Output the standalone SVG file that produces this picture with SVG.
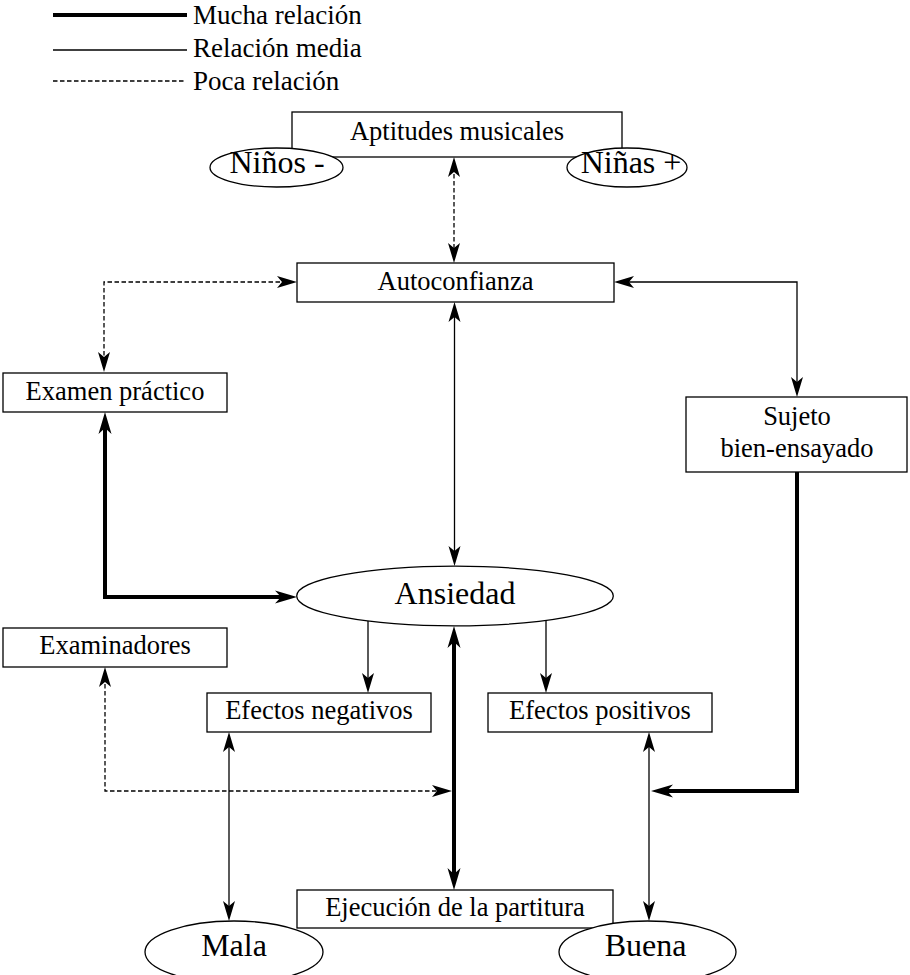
<svg xmlns="http://www.w3.org/2000/svg" width="910" height="975" viewBox="0 0 910 975">
<defs>
<style>
.t{font-family:"Liberation Serif","Times New Roman",serif;fill:#000}
.bt{font-size:26.5px;text-anchor:middle}
.et{font-size:32px;text-anchor:middle}
.lg{font-size:27px}
.box{fill:#fff;stroke:#000;stroke-width:1.3}
.ell{fill:#fff;stroke:#000;stroke-width:1.3}
.m{fill:none;stroke:#000;stroke-width:1.3}
.k{fill:none;stroke:#000;stroke-width:4}
.d{fill:none;stroke:#000;stroke-width:1.3;stroke-dasharray:4.5 2.5}
</style>
<marker id="a" markerUnits="userSpaceOnUse" markerWidth="20" markerHeight="12" refX="10" refY="6" orient="auto-start-reverse" overflow="visible">
<path d="M20,6 L0,0 L5,6 L0,12 Z" fill="#000"/>
</marker>
<marker id="ak" markerUnits="userSpaceOnUse" markerWidth="22" markerHeight="13" refX="11" refY="6.5" orient="auto-start-reverse" overflow="visible">
<path d="M22,6.5 L0,0 L6,6.5 L0,13 Z" fill="#000"/>
</marker>
</defs>
<rect width="910" height="975" fill="#fff"/>

<g id="legend">
<line x1="53" y1="15" x2="187" y2="15" class="k"/>
<line x1="53" y1="50" x2="187" y2="50" class="m"/>
<line x1="53" y1="81" x2="184" y2="81" class="d"/>
<text x="193" y="24" class="t lg">Mucha relación</text>
<text x="193" y="57" class="t lg">Relación media</text>
<text x="193" y="90" class="t lg">Poca relación</text>
</g>

<g id="connectors">
<path d="M454,167 L454,253" class="d" marker-start="url(#a)" marker-end="url(#a)"/>
<path d="M287,282 L104,282 L104,362" class="d" marker-start="url(#a)" marker-end="url(#a)"/>
<path d="M454.5,312 L454.5,556" class="m" marker-start="url(#a)" marker-end="url(#a)"/>
<path d="M624,282 L797,282 L797,387" class="m" marker-start="url(#a)" marker-end="url(#a)"/>
<path d="M105,423 L105,597 L286,597" class="k" marker-start="url(#ak)" marker-end="url(#ak)"/>
<path d="M368,621 L368,683" class="m" marker-end="url(#a)"/>
<path d="M546,620 L546,683" class="m" marker-end="url(#a)"/>
<path d="M454,637 L454,879" class="k" marker-start="url(#ak)" marker-end="url(#ak)"/>
<path d="M105,677 L105,791 L442,791" class="d" marker-start="url(#a)" marker-end="url(#a)"/>
<path d="M797,472 L797,791 L662,791" class="k" marker-end="url(#ak)"/>
<path d="M229,742 L229,911" class="m" marker-start="url(#a)" marker-end="url(#a)"/>
<path d="M649,742 L649,911" class="m" marker-start="url(#a)" marker-end="url(#a)"/>
</g>

<g id="aptitudes">
<rect x="292" y="112" width="330" height="45" class="box"/>
<text x="457" y="140" class="t bt">Aptitudes musicales</text>
</g>
<g id="ninos">
<ellipse cx="276.5" cy="167.5" rx="66.5" ry="19.5" class="ell"/>
<text x="277" y="173" class="t et">Niños -</text>
</g>
<g id="ninas">
<ellipse cx="627" cy="167.5" rx="60" ry="19.5" class="ell"/>
<text x="631" y="173" class="t et">Niñas +</text>
</g>
<g id="autoconfianza">
<rect x="297" y="263" width="317" height="39" class="box"/>
<text x="455.5" y="290" class="t bt">Autoconfianza</text>
</g>
<g id="examen">
<rect x="3" y="373" width="224" height="39" class="box"/>
<text x="115" y="400" class="t bt">Examen práctico</text>
</g>
<g id="sujeto">
<rect x="686" y="397" width="221" height="75" class="box"/>
<text x="797" y="425" class="t bt">Sujeto</text>
<text x="797" y="457" class="t bt">bien-ensayado</text>
</g>
<g id="ansiedad">
<ellipse cx="455" cy="596" rx="158.3" ry="29.8" class="ell"/>
<text x="455" y="604" class="t et">Ansiedad</text>
</g>
<g id="examinadores">
<rect x="3" y="628" width="224" height="39" class="box"/>
<text x="115" y="654" class="t bt">Examinadores</text>
</g>
<g id="efectos-negativos">
<rect x="207" y="693" width="224" height="39" class="box"/>
<text x="319" y="719" class="t bt">Efectos negativos</text>
</g>
<g id="efectos-positivos">
<rect x="488" y="693" width="224" height="39" class="box"/>
<text x="600" y="719" class="t bt">Efectos positivos</text>
</g>
<g id="ejecucion">
<rect x="297" y="890" width="316" height="38" class="box"/>
<text x="455" y="916" class="t bt">Ejecución de la partitura</text>
</g>
<g id="mala">
<ellipse cx="234" cy="952" rx="89" ry="31" class="ell"/>
<text x="234" y="956" class="t et">Mala</text>
</g>
<g id="buena">
<ellipse cx="647.5" cy="952" rx="88.5" ry="31" class="ell"/>
<text x="645.5" y="956" class="t et">Buena</text>
</g>
</svg>
